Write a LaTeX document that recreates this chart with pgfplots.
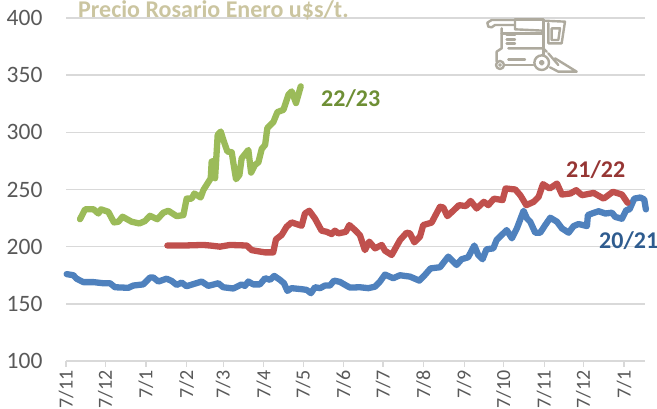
\documentclass[border=0pt]{standalone}
\usepackage{pgfplots}
\pgfplotsset{compat=1.18}
\usepackage{fontspec}
\setmainfont{Carlito}
\definecolor{gridc}{HTML}{D9D9D9}
\definecolor{textc}{HTML}{595959}
\definecolor{blueL}{HTML}{4F81BD}
\definecolor{redL}{HTML}{C0504D}
\definecolor{greenL}{HTML}{9BBB59}
\definecolor{blueT}{HTML}{2F5C8F}
\definecolor{redT}{HTML}{963634}
\definecolor{greenT}{HTML}{6E8F35}
\definecolor{titleT}{HTML}{CBC5A0}
\definecolor{iconc}{HTML}{AEAA9E}
\begin{document}
\begin{tikzpicture}[x=1pt,y=1pt]
\useasboundingbox (0,0) rectangle (657,409);
\clip (0,0) rectangle (657,409);
\begin{axis}[
  at={(66pt,48pt)},anchor=south west,
  scale only axis,width=579pt,height=343pt,
  xmin=0,xmax=442,ymin=100,ymax=400,
  axis lines=left,
  axis line style={-,draw=gridc,line width=1.4pt},
  y axis line style={draw=none},
  clip=false,
  ymajorgrids,
  grid style={draw=gridc,line width=1.4pt},
  ytick={100,150,...,400},
  xtick={0,30,61,92,120,151,181,212,242,273,304,334,365,395,426},
  xticklabels={7/11,7/12,7/1,7/2,7/3,7/4,7/5,7/6,7/7,7/8,7/9,7/10,7/11,7/12,7/1},
  tick align=outside,
  major tick length=6pt,
  xtick style={draw=gridc,line width=1.2pt},
  ytick style={draw=none},
  /pgf/number format/assume math mode=true,
  yticklabel style={font=\fontsize{23.5}{24}\selectfont,text=textc,anchor=east,xshift=-14pt},
  xticklabel style={font=\fontsize{20}{20}\selectfont,text=textc,rotate=90,anchor=east,xshift=0pt,yshift=0pt},
  every axis plot/.style={line width=6.3pt,line join=round,line cap=round,no marks},
]
\addplot[blueL] coordinates {
(0.5,176)(5.6,175)(8.1,172)(13.2,169)(20.9,169)(28.5,168)(33.6,168)(37.4,164.5)(47.6,164)(51.4,166)(59,167)(64.1,173)(66.7,173)(70.5,169.5)(76.8,172)(80.7,170)(84.5,166.5)(88.3,168.6)(92,165.4)(103.6,169.5)(108.6,165.7)
(116.3,168)(120,164.5)(127.7,163.4)(134,167)(136.6,165.7)(139.2,169.5)(143,167)(148,167)(152,172.4)(155.7,171)(159,174.4)(163.3,171)(166.4,168)(169,161.3)(172.2,163.7)(180,162.8)(183.7,162.2)(187,159.3)(190,164.5)(194,163.7)(197.7,166)(201.5,166)(204.6,170.3)(209.1,169.2)(213,166.6)(216.8,164.2)(224.4,164.5)
(230.8,163.7)(235.9,165)(239.7,169.5)(243.5,175.6)(249.8,172.4)(254.9,175)(262.6,173.8)(269.7,170.3)(274,175.3)(278.3,181)(285.5,182)(291.8,191.3)(298.2,184)(302,189)(307,190.7)(311.7,201)(314.7,192.7)(318,189)(321,197.7)(326.2,198.5)(328.7,205.8)(336.4,214.5)
(340.4,207.3)(344.2,216)(349.3,231.4)(351.9,224.7)(354.4,221.8)(358.2,212.2)(362,212.2)(365.9,219)(369.7,225.3)(374.8,221.8)(378.6,216)(383.7,212.2)(387.5,218)(391.3,219.8)(397.7,218)(398.4,227.6)(401.5,229)(406.6,231)(411.7,229)(416.8,229.7)(419.3,226)(424.4,224.4)(427.7,232)(430.2,232.6)(433.8,242)(438.4,243)(441.4,241.3)(442.7,232.6)
};
\addplot[redL] coordinates {
(77.4,201)(90,201)(104.8,201.5)(110,201)(117.5,200)(125.2,201.5)(138,201)(141.7,197)(145.5,196.2)(151.9,195)(158.2,195)(160.3,206.4)(164.6,210.2)(168.4,217.4)(172.2,221.2)(179.9,218.3)(182.4,229)(185.7,231.4)(190,224.7)(195.1,214)(199,213)(202.8,211)(205.3,214)(207.9,211.6)(213.7,213)(216.3,218.9)(220.6,214.5)(224.4,210)
(228.2,197)(231.5,204.4)(235.9,198.5)(241,201.5)(243.5,196.5)(248.6,192.7)(255,205.8)(260,212.2)(262.6,211.6)(265.9,203.8)(270.2,208.7)(272.7,218.9)(279.1,221)(281.7,226.7)(285.5,234.9)(288,234.3)(291.1,226.7)(295.6,231.4)(300,236.3)(305.3,235.5)(308.9,240)(313.5,233.4)(319,239.2)(322.4,236.3)(326.7,242)(333.3,240.7)(335.6,250.9)
(343,250)(346.8,245)(351.4,236.3)(357,239.2)(360.8,243.6)(364.1,254.7)(369.2,250.9)(374.8,255.2)(378.6,245.6)(385,246.5)(389.5,249.4)(393.9,245)(402.8,247)(410.4,242)(417.5,248)(424.4,245.6)(428.7,238.4)
};
\addplot[greenL] coordinates {
(10.7,224)(14.5,232.6)(20.9,232.8)(24.7,229)(26.7,232.6)(32.3,230.5)(36.6,221.2)(40,221.8)(43.2,226.2)(50.1,221.8)(56,220.3)(60.3,222.4)(64.1,227)(69.7,224)(74.3,229.7)(78.1,231.4)(84.5,226.7)(89.6,227.6)(92.1,242)(95.9,242)(98,246.5)(102.8,243)(104.9,249.6)(110.5,259.8)(111.2,274.4)(113,275)(113.8,259.8)(115.8,297.8)(118.1,300.7)(120.1,293.4)(123.2,283.2)(126.5,282.6)(127.8,273)(129.8,259)(132.4,262.7)(134.1,277.3)(139.2,284.6)(141.3,264.8)(144.3,271.5)(146.9,273.8)(149.4,285.5)(152,289)(153.7,303.7)(158.3,309)(161.4,317.7)(166,319.7)(169.8,332.9)(172.3,335.8)(175.6,325.6)(179.2,340.2)
};
\end{axis}
% texts, in picture coordinates
\node[anchor=base west,inner sep=0pt,text=titleT,font=\fontsize{24}{24}\selectfont\bfseries] at (78,391.5) {Precio Rosario Enero u\$s/t.};
\node[anchor=west,inner sep=0pt,text=greenT,font=\fontsize{24}{24}\selectfont\bfseries] at (321,310) {22/23};
\node[anchor=west,inner sep=0pt,text=redT,font=\fontsize{24}{24}\selectfont\bfseries] at (566,239) {21/22};
\node[anchor=west,inner sep=0pt,text=blueT,font=\fontsize{24}{24}\selectfont\bfseries] at (599,168) {20/21};
% harvester icon
\begin{scope}[shift={(480,399)},x=0.3333pt,y=-0.3333pt,draw=iconc,line width=2.4pt,line join=round,line cap=round]
\draw (105,30)--(35,30)--(22,38)--(25,50)--(35,52)--(45,45)--(105,45);
\draw (105,28)--(190,28)--(190,135);
\draw (105,28)--(105,58)--(190,62);
\draw (190,32)--(255,35)--(245,100)--(205,100)--(205,40);
\draw (215,55)--(240,55)--(235,90)--(215,90)--cycle;
\draw (65,55)--(65,115)--(50,125)--(50,155);
\draw (65,70)--(190,70);
\draw (80,75)--(105,75) (80,88)--(105,88) (80,100)--(105,100);
\draw (85,115)--(190,115)--(200,125);
\draw (85,148)--(135,148);
\draw (75,165)--(160,165);
\draw (60,165) circle[radius=4pt];
\draw (60,165) circle[radius=0.8pt];
\draw (185,158) circle[radius=7.3pt];
\draw (185,158) circle[radius=1.8pt];
\draw (205,130)--(235,165);
\draw (225,145)--(290,185)--(235,185)--(210,172);
\end{scope}
\end{tikzpicture}
\end{document}
